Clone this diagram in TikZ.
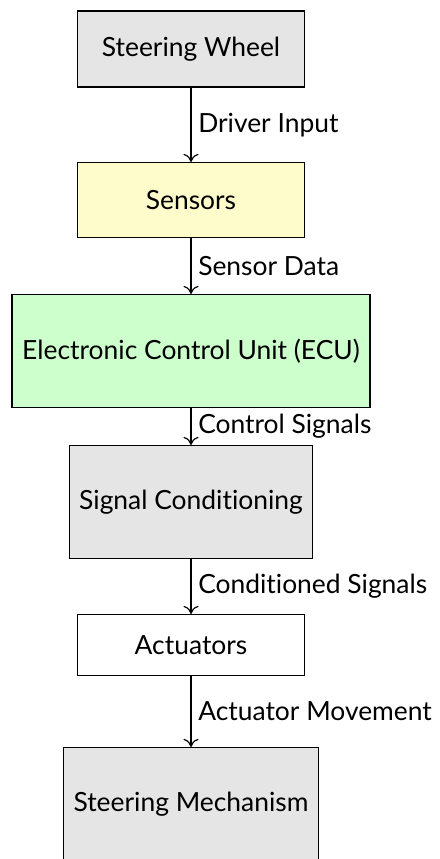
\documentclass[tikz,border=0pt]{standalone}
\usepackage{fontspec}
\setmainfont[Ligatures=NoCommon]{Lato}
\usetikzlibrary{arrows.meta}

\begin{document}
\begin{tikzpicture}[->,>={To[length=4pt,width=7.5pt]},auto,node distance=75.5pt,semithick,font=\fontsize{13.2}{15}\selectfont]
  \tikzstyle{block}=[rectangle,draw=black,minimum width=113.5pt,minimum height=38pt]
  \useasboundingbox (0,0) rectangle (220pt,-429.5pt);
  \clip (0,0) rectangle (220pt,-429.5pt);

  \node[block,fill=gray!20] (wheel) at (95.5pt,-24.5pt) {Steering Wheel};
  \node[block,fill=yellow!20,minimum height=37.5pt] (sensors) [below of=wheel] {Sensors};
  \node[block,fill=green!20,minimum width=179pt,minimum height=56.5pt] (ecu) [below of=sensors] {Electronic Control Unit (ECU)};
  \node[block,fill=gray!20,minimum width=121.5pt,minimum height=56.5pt] (cond) [below of=ecu] {Signal Conditioning};
  \node[block,minimum height=30.5pt,node distance=71.5pt] (act) [below of=cond] {Actuators};
  \node[block,fill=gray!20,minimum width=127.5pt,minimum height=56.5pt,node distance=79.5pt] (mech) [below of=act] {Steering Mechanism};

  \path (wheel) edge node {Driver Input} (sensors)
	(sensors) edge node {Sensor Data} (ecu)
	(ecu) edge node {Control Signals} (cond)
	(cond) edge node {Conditioned Signals} (act)
	(act) edge node {Actuator Movement} (mech);
\end{tikzpicture}
\end{document}
